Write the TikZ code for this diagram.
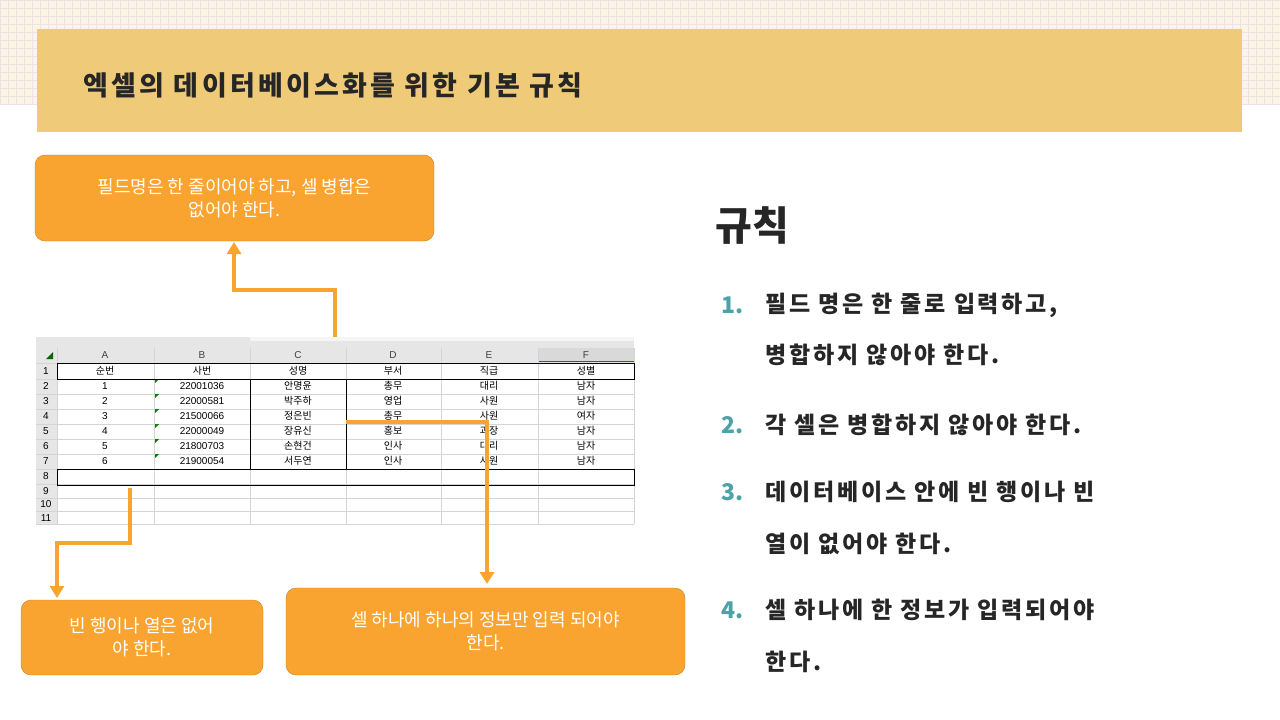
\documentclass[tikz,border=0pt]{standalone}
\usepackage{fontspec}
\usetikzlibrary{arrows.meta}
\setmainfont{Noto Sans CJK KR}
\newfontfamily\krsp[LetterSpace=12]{Noto Sans CJK KR}
\newfontfamily\xl{Liberation Sans}
\definecolor{banner}{HTML}{EFCA78}
\definecolor{orng}{HTML}{F9A431}
\definecolor{orbd}{HTML}{C9822A}
\definecolor{teal}{HTML}{4BA3A8}
\definecolor{gridbg}{HTML}{FCF4E6}
\definecolor{gridln}{HTML}{EDE3E3}
\definecolor{xlgray}{HTML}{E6E6E6}
\definecolor{xlline}{HTML}{D4D4D4}
\begin{document}
\begin{tikzpicture}[x=1pt,y=-1pt,
  callout/.style={draw=orbd,fill=orng,rounded corners=10pt,text=white,font=\fontsize{18}{23}\selectfont,align=center,inner sep=4pt},
  arr/.style={draw=orng,line width=4pt,-{Triangle[length=12pt,width=14pt]}},
  cell/.style={font=\xl\fontsize{10}{11}\selectfont},
  kcell/.style={font=\fontsize{10}{11}\selectfont},
  rule/.style={anchor=west,font=\krsp\bfseries\fontsize{23}{28}\selectfont,text=black!85},
  num/.style={anchor=west,font=\bfseries\fontsize{23}{28}\selectfont,text=teal}]
\useasboundingbox (0,0) rectangle (1280,720);
\fill[white] (0,0) rectangle (1280,720);
\fill[gridbg] (0,0) rectangle (1280,104);
\foreach \x in {0,8,...,1280} \draw[gridln,line width=0.8pt] (\x,0) -- (\x,104);
\foreach \y in {0,8,...,104} \draw[gridln,line width=0.8pt] (0,\y) -- (1280,\y);
\fill[banner] (37,29) rectangle (1242,132);
\node[anchor=west,font=\krsp\bfseries\fontsize{27}{32}\selectfont,text=black!85] (title) at (80,85) {엑셀의 데이터베이스화를 위한 기본 규칙};
% spreadsheet
\fill[xlgray] (36,337) rectangle (634,363);
\fill[xlgray] (36,363) rectangle (57,524);
\fill[white!96!black] (250,337) rectangle (634,341);
\fill[black!15] (538,348) rectangle (634,361);
\draw[green!50!black,line width=1.5pt] (538,361.5)--(634,361.5);
\fill[green!40!black] (46,359) -- (53,359) -- (53,352) -- cycle;
\foreach \x in {57,154,250,346,441,538,634} \draw[xlline] (\x,348) -- (\x,524);
\foreach \y in {363,379,394,409,424,439,454,469,484,498,511,524} \draw[xlline] (36,\y) -- (634,\y);
\foreach \c/\x in {A/105,B/202,C/298,D/393,E/489,F/586} \node[cell,text=black!75] (h\c) at (\x,355) {\c};
\foreach \r/\y in {1/371,2/386,3/401,4/416,5/431,6/446,7/461,8/476,9/491,10/504,11/518} \node[cell] (r\r) at (46,\y) {\r};
\node[kcell] (f1) at (105,371) {순번};
\node[kcell] (f2) at (202,371) {사번};
\node[kcell] (f3) at (298,371) {성명};
\node[kcell] (f4) at (393,371) {부서};
\node[kcell] (f5) at (489,371) {직급};
\node[kcell] (f6) at (586,371) {성별};
\foreach \i/\idn/\nmv/\depv/\rkv/\sxv [count=\k from 0] in {1/22001036/안명윤/총무/대리/남자,2/22000581/박주하/영업/사원/남자,3/21500066/정은빈/총무/사원/여자,4/22000049/장유신/홍보/과장/남자,5/21800703/손현건/인사/대리/남자,6/21900054/서두연/인사/사원/남자}{
  \pgfmathsetmacro\yy{386+15*\k}
  \node[cell] (a\i) at (105,\yy) {\i};
  \node[cell] (b\i) at (202,\yy) {\idn};
  \node[kcell] (c\i) at (298,\yy) {\nmv};
  \node[kcell] (d\i) at (393,\yy) {\depv};
  \node[kcell] (e\i) at (489,\yy) {\rkv};
  \node[kcell] (g\i) at (586,\yy) {\sxv};
  \fill[green!50!black] (155,\yy-7) -- (159,\yy-7) -- (155,\yy-3) -- cycle;
}
\draw[black,line width=0.9pt] (57,363) rectangle (634,379);
\draw[black,line width=0.9pt] (250,379) rectangle (346,469);
\draw[black,line width=0.9pt] (57,469) rectangle (634,485);
% callouts
\node[callout,minimum width=399pt,minimum height=86pt] (co1) at (234.5,198) {필드명은 한 줄이어야 하고, 셀 병합은\\없어야 한다.};
\node[callout,minimum width=242pt,minimum height=75pt] (co2) at (142,637.5) {빈 행이나 열은 없어\\야 한다.};
\node[callout,minimum width=399pt,minimum height=87pt] (co3) at (485.5,631.5) {셀 하나에 하나의 정보만 입력 되어야\\한다.};
\coordinate (s1) at (335,337);
\coordinate (s2) at (130,488);
\coordinate (s3) at (346,422);
\draw[arr] (s1) -- (335,290) -- (234,290) -- (234,242);
\draw[arr] (s2) -- (130,543) -- (57,543) -- (57,598);
\draw[arr] (s3) -- (487,422) -- (487,584);
% rules
\node[anchor=west,font=\bfseries\fontsize{40}{46}\selectfont,text=black!85] (hd) at (712,226) {규칙};
\node[num] (n1) at (718,305) {1.};
\node[rule] (t1a) at (762,305) {필드 명은 한 줄로 입력하고,};
\node[rule] (t1b) at (762,355) {병합하지 않아야 한다.};
\node[num] (n2) at (718,425) {2.};
\node[rule] (t2) at (762,425) {각 셀은 병합하지 않아야 한다.};
\node[num] (n3) at (718,492) {3.};
\node[rule] (t3a) at (762,492) {데이터베이스 안에 빈 행이나 빈};
\node[rule] (t3b) at (762,544) {열이 없어야 한다.};
\node[num] (n4) at (718,610) {4.};
\node[rule] (t4a) at (762,610) {셀 하나에 한 정보가 입력되어야};
\node[rule] (t4b) at (762,662) {한다.};
\end{tikzpicture}
\end{document}
